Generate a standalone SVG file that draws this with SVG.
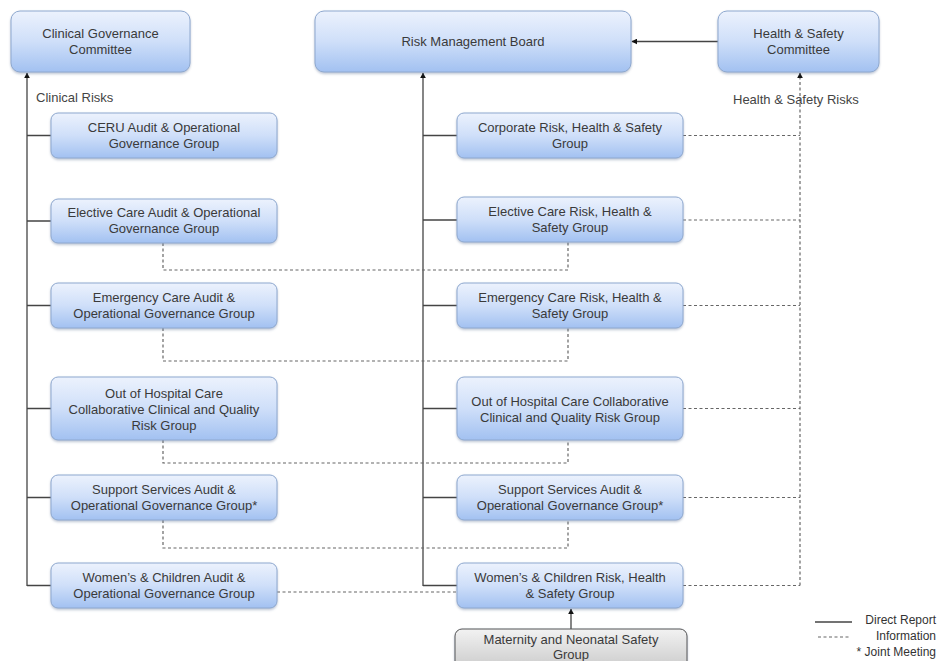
<svg xmlns="http://www.w3.org/2000/svg" width="940" height="661" viewBox="0 0 940 661">
  <defs>
    <linearGradient id="blueFill" x1="0" y1="0" x2="0" y2="1">
      <stop offset="0" stop-color="#ecf2fd"/>
      <stop offset="0.5" stop-color="#cfdff9"/>
      <stop offset="1" stop-color="#a2c1f1"/>
    </linearGradient>
    <linearGradient id="greyFill" x1="0" y1="0" x2="0" y2="1">
      <stop offset="0" stop-color="#f2f2f2"/>
      <stop offset="1" stop-color="#c6c6c6"/>
    </linearGradient>
    <filter id="shadow" x="-5%" y="-10%" width="110%" height="130%">
      <feDropShadow dx="0" dy="1.5" stdDeviation="1.2" flood-color="#6a7f9f" flood-opacity="0.45"/>
    </filter>
    <marker id="arrow" viewBox="0 0 10 10" refX="9" refY="5" markerWidth="6" markerHeight="6" orient="auto" markerUnits="userSpaceOnUse">
      <path d="M0,0 L10,5 L0,10 Z" fill="#111"/>
    </marker>
  </defs>
  <style>
    .box { fill: url(#blueFill); stroke: #8ea8cf; stroke-width: 1; filter: url(#shadow); }
    .grey { fill: url(#greyFill); stroke: #555; stroke-width: 1; filter: url(#shadow); }
    .t { font-family: "Liberation Sans", Arial, sans-serif; font-size: 13px; fill: #3a3a3a; text-anchor: middle; }
    .lbl { font-family: "Liberation Sans", Arial, sans-serif; font-size: 13px; fill: #444; }
    .leg { font-family: "Liberation Sans", Arial, sans-serif; font-size: 12px; fill: #333; text-anchor: end; }
    .solid { stroke: #444; stroke-width: 1.3; fill: none; }
    .dash { stroke: #666; stroke-width: 1.2; fill: none; stroke-dasharray: 3 2.5; }
  </style>

  <rect width="940" height="661" fill="#ffffff"/>

  <!-- connectors -->
  <g id="connectors">
    <!-- direct report trunks -->
    <path class="solid" d="M27,586 V73" marker-end="url(#arrow)"/>
    <path class="solid" d="M423,586 V73" marker-end="url(#arrow)"/>
    <path class="solid" d="M718,41.5 H632" marker-end="url(#arrow)"/>
    <path class="solid" d="M571,629 V609" marker-end="url(#arrow)"/>
    <!-- clinical branches -->
    <path class="solid" d="M27,135.5 H51 M27,221 H51 M27,305.5 H51 M27,408.5 H51 M27,497.5 H51 M27,585.5 H51"/>
    <!-- risk branches -->
    <path class="solid" d="M423,135.5 H457 M423,220 H457 M423,305.5 H457 M423,408.5 H457 M423,497.5 H457 M423,585.5 H457"/>
    <!-- health & safety information -->
    <path class="dash" d="M800,585.5 V73" marker-end="url(#arrow)"/>
    <path class="dash" d="M683,135.5 H800 M683,220 H800 M683,305.5 H800 M683,408.5 H800 M683,497.5 H800 M683,585.5 H800"/>
    <!-- joint information links -->
    <path class="dash" d="M163,243 V270 H568 V242"/>
    <path class="dash" d="M163,328 V361 H568 V328"/>
    <path class="dash" d="M163,440 V463 H568 V440"/>
    <path class="dash" d="M163,520 V548 H568 V520"/>
    <path class="dash" d="M277,592 H457"/>
  </g>

  <!-- top level -->
  <g id="clinical-governance-committee">
    <rect class="box" x="11" y="11" width="179" height="61" rx="9"/>
    <text class="t" x="100.5" y="38">Clinical Governance</text>
    <text class="t" x="100.5" y="54">Committee</text>
  </g>
  <g id="risk-management-board">
    <rect class="box" x="315" y="11" width="316" height="61" rx="9"/>
    <text class="t" x="473" y="46">Risk Management Board</text>
  </g>
  <g id="health-safety-committee">
    <rect class="box" x="718" y="11" width="161" height="61" rx="9"/>
    <text class="t" x="798.5" y="38">Health &amp; Safety</text>
    <text class="t" x="798.5" y="54">Committee</text>
  </g>

  <text class="lbl" x="36" y="102">Clinical Risks</text>
  <text class="lbl" x="733" y="104">Health &amp; Safety Risks</text>

  <!-- clinical column -->
  <g id="ceru-audit">
    <rect class="box" x="51" y="113" width="226" height="45" rx="7"/>
    <text class="t" x="164" y="132">CERU Audit &amp; Operational</text>
    <text class="t" x="164" y="148">Governance Group</text>
  </g>
  <g id="elective-audit">
    <rect class="box" x="51" y="199" width="226" height="44" rx="7"/>
    <text class="t" x="164" y="217">Elective Care Audit &amp; Operational</text>
    <text class="t" x="164" y="233">Governance Group</text>
  </g>
  <g id="emergency-audit">
    <rect class="box" x="51" y="283" width="226" height="45" rx="7"/>
    <text class="t" x="164" y="302">Emergency Care Audit &amp;</text>
    <text class="t" x="164" y="318">Operational Governance Group</text>
  </g>
  <g id="ooh-clinical">
    <rect class="box" x="51" y="377" width="226" height="63" rx="7"/>
    <text class="t" x="164" y="398">Out of Hospital Care</text>
    <text class="t" x="164" y="414">Collaborative Clinical and Quality</text>
    <text class="t" x="164" y="430">Risk Group</text>
  </g>
  <g id="support-audit">
    <rect class="box" x="51" y="475" width="226" height="45" rx="7"/>
    <text class="t" x="164" y="494">Support Services Audit &amp;</text>
    <text class="t" x="164" y="510">Operational Governance Group*</text>
  </g>
  <g id="womens-audit">
    <rect class="box" x="51" y="563" width="226" height="45" rx="7"/>
    <text class="t" x="164" y="582">Women’s &amp; Children Audit &amp;</text>
    <text class="t" x="164" y="598">Operational Governance Group</text>
  </g>

  <!-- risk column -->
  <g id="corporate-risk">
    <rect class="box" x="457" y="113" width="226" height="45" rx="7"/>
    <text class="t" x="570" y="132">Corporate Risk, Health &amp; Safety</text>
    <text class="t" x="570" y="148">Group</text>
  </g>
  <g id="elective-risk">
    <rect class="box" x="457" y="197" width="226" height="45" rx="7"/>
    <text class="t" x="570" y="216">Elective Care Risk, Health &amp;</text>
    <text class="t" x="570" y="232">Safety Group</text>
  </g>
  <g id="emergency-risk">
    <rect class="box" x="457" y="283" width="226" height="45" rx="7"/>
    <text class="t" x="570" y="302">Emergency Care Risk, Health &amp;</text>
    <text class="t" x="570" y="318">Safety Group</text>
  </g>
  <g id="ooh-risk">
    <rect class="box" x="457" y="377" width="226" height="63" rx="7"/>
    <text class="t" x="570" y="406">Out of Hospital Care Collaborative</text>
    <text class="t" x="570" y="422">Clinical and Quality Risk Group</text>
  </g>
  <g id="support-risk">
    <rect class="box" x="457" y="475" width="226" height="45" rx="7"/>
    <text class="t" x="570" y="494">Support Services Audit &amp;</text>
    <text class="t" x="570" y="510">Operational Governance Group*</text>
  </g>
  <g id="womens-risk">
    <rect class="box" x="457" y="563" width="226" height="45" rx="7"/>
    <text class="t" x="570" y="582">Women’s &amp; Children Risk, Health</text>
    <text class="t" x="570" y="598">&amp; Safety Group</text>
  </g>
  <g id="maternity-neonatal">
    <rect class="grey" x="455" y="629" width="232" height="45" rx="7"/>
    <text class="t" x="571" y="644">Maternity and Neonatal Safety</text>
    <text class="t" x="571" y="659">Group</text>
  </g>

  <!-- legend -->
  <g id="legend">
    <line class="solid" x1="815" y1="622" x2="852" y2="622"/>
    <text class="leg" x="936" y="624">Direct Report</text>
    <line class="dash" x1="818" y1="637" x2="850" y2="637"/>
    <text class="leg" x="936" y="640">Information</text>
    <text class="leg" x="936" y="656">* Joint Meeting</text>
  </g>
</svg>
